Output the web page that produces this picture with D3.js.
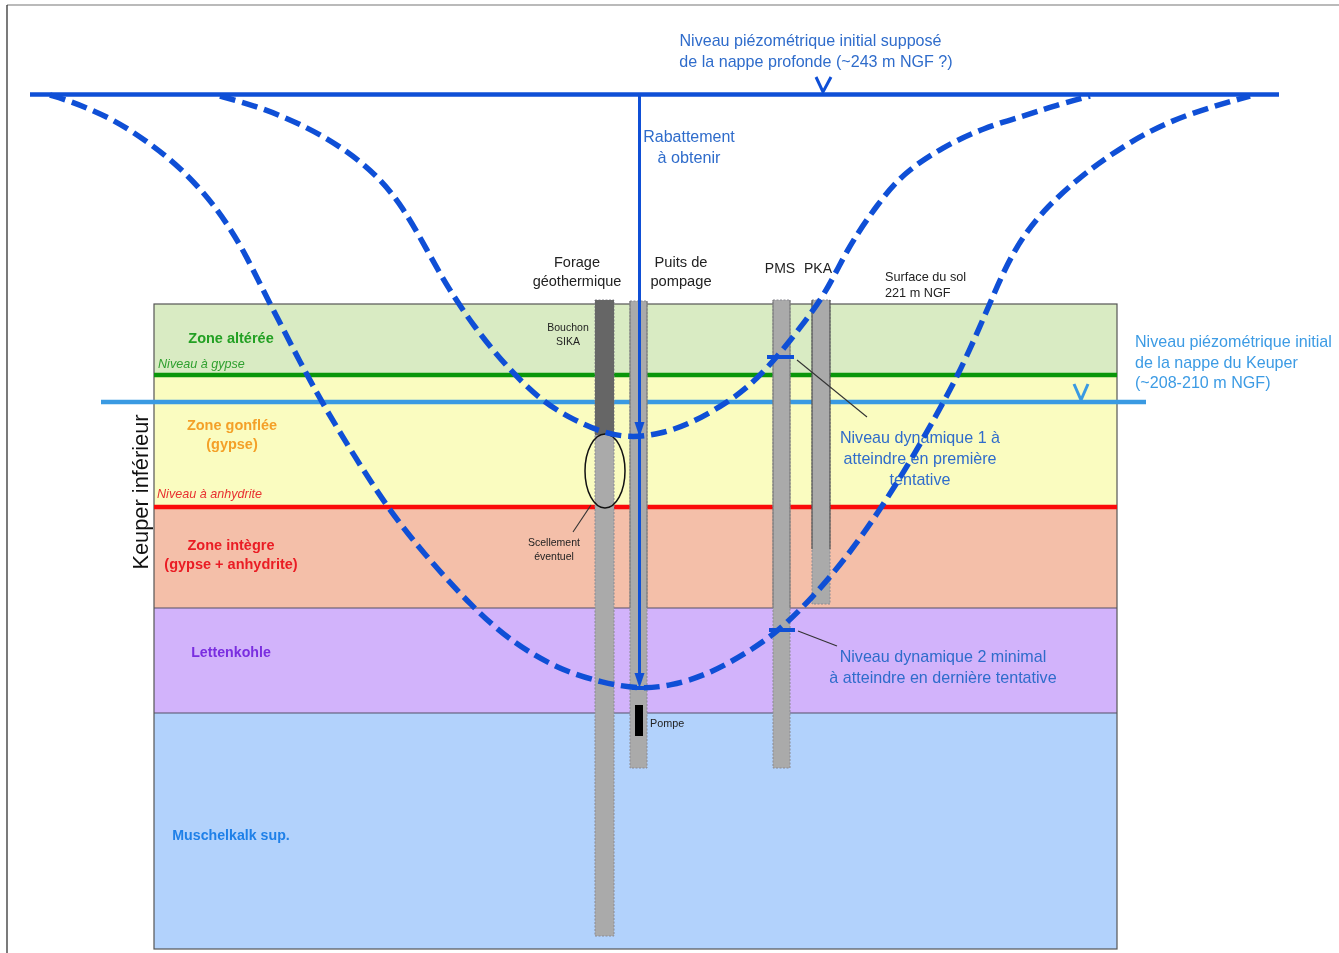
<!DOCTYPE html>
<html>
<head>
<meta charset="utf-8">
<script src="https://cdn.jsdelivr.net/npm/d3@7"></script>
<style>
  html, body { margin: 0; padding: 0; background: #fff; }
  text { font-family: "Liberation Sans", Arial, sans-serif; dominant-baseline: central; }
</style>
</head>
<body>
<div id="my_dataviz"></div>
<script>
// all values: distance from the pumping well, depth below ground (schematic units)
var layerNames = ["Zone altérée", "Zone gonflée", "Zone intègre", "Lettenkohle", "Muschelkalk sup."];
var layerTops = [0, 71, 203, 304, 409];
var layerBottoms = [71, 203, 304, 409, 645];
var layerColors = ["#d9ebc3", "#fafcc0", "#f4bfa9", "#d2b3fb", "#b2d2fc"];

var wellNames = ["Forage géothermique", "Puits de pompage", "PMS", "PKA"];
var wellLeft = [-45, -10, 133, 172];
var wellRight = [-26, 7, 150, 190];
var wellTops = [-4, -3, -4, -4];
var wellBottoms = [632, 464, 464, 300];
var wellSolidTo = [131, 0, 0, 245];

var gypsumDepth = 71, anhydriteDepth = 203;
var deepLevel = -209.5, keuperLevel = 98;

var drawdown1 = [[-420,-208],[-377,-196],[-333,-177],[-297,-156],[-263,-129],[-237,-97],[-213,-54],[-192,-16],
  [-165,24],[-135,61],[-100,96],[-70,114],[-40,128],[-10,134],[20,130],[50,120],[87,99],[113,79],[137,53],
  [160,24],[183,-7],[198,-36],[213,-64],[237,-99],[263,-131],[303,-157],[343,-176],[387,-189],[420,-200],[450,-208]];
var drawdown2 = [[-590,-209],[-573,-204],[-530,-187],[-490,-161],[-457,-134],[-427,-101],[-400,-61],[-377,-14],
  [-363,13],[-340,58],[-315,104],[-285,153],[-253,203],[-217,249],[-167,304],[-127,339],[-80,366],[-37,379],
  [0,385],[30,382],[67,371],[107,349],[140,326],[173,293],[207,253],[240,206],[273,153],[303,99],[317,73],
  [335,34],[350,-1],[373,-54],[403,-94],[440,-127],[470,-149],[507,-172],[550,-191],[610,-208]];

var width = 1339, height = 953;
var x = d3.scaleLinear().domain([-640, 699]).range([0, width]);
var y = d3.scaleLinear().domain([-304, 649]).range([0, height]);

// the source is a soft scan, so everything gets a very slight blur
var svg = d3.select("#my_dataviz").append("svg")
  .attr("width", width).attr("height", height).style("display", "block").style("filter", "blur(0.4px)");

var blue = "#0f4fd6", lightBlue = "#3a9ae2", noteBlue = "#2f6ccb", skyText = "#3c9be4";

// page frame
svg.append("line").attr("x1", 7).attr("x2", width).attr("y1", 5).attr("y2", 5).attr("stroke", "#777").attr("stroke-width", 1.2);
svg.append("line").attr("x1", 7).attr("x2", 7).attr("y1", 5).attr("y2", height).attr("stroke", "#222").attr("stroke-width", 1.2);

// layers
layerNames.forEach(function(d, i) {
  svg.append("rect")
    .attr("x", x(-486)).attr("width", x(477) - x(-486))
    .attr("y", y(layerTops[i])).attr("height", y(layerBottoms[i]) - y(layerTops[i]))
    .attr("fill", layerColors[i]);
});
[304, 409].forEach(function(d) {
  svg.append("line").attr("x1", x(-486)).attr("x2", x(477)).attr("y1", y(d)).attr("y2", y(d))
    .attr("stroke", "#555066").attr("stroke-width", 1.2);
});
svg.append("rect")
  .attr("x", x(-486)).attr("width", x(477) - x(-486)).attr("y", y(0)).attr("height", y(645) - y(0))
  .attr("fill", "none").attr("stroke", "#555").attr("stroke-width", 1.2);

// horizons
svg.append("line").attr("x1", x(-486)).attr("x2", x(477)).attr("y1", y(gypsumDepth)).attr("y2", y(gypsumDepth))
  .attr("stroke", "#0a960a").attr("stroke-width", 4.5);
svg.append("line").attr("x1", x(-486)).attr("x2", x(477)).attr("y1", y(anhydriteDepth)).attr("y2", y(anhydriteDepth))
  .attr("stroke", "#fa0a0a").attr("stroke-width", 4.5);

// keuper water table
svg.append("line").attr("x1", 101).attr("x2", 1146).attr("y1", y(keuperLevel)).attr("y2", y(keuperLevel))
  .attr("stroke", lightBlue).attr("stroke-width", 4.5);
svg.append("path").attr("d", "M1074,384 L1081,400 L1088,384")
  .attr("fill", "none").attr("stroke", lightBlue).attr("stroke-width", 3);

// wells
wellNames.forEach(function(d, i) {
  var l = x(wellLeft[i]), r = x(wellRight[i]), t = y(wellTops[i]), b = y(wellBottoms[i]);
  svg.append("rect").attr("x", l).attr("width", r - l).attr("y", t).attr("height", b - t)
    .attr("fill", "#aaaaaa").attr("stroke", "#8a8a92").attr("stroke-width", 1).attr("stroke-dasharray", "2,1.5");
  if (i == 0) {
    svg.append("rect").attr("x", l).attr("width", r - l).attr("y", t).attr("height", y(wellSolidTo[0]) - t)
      .attr("fill", "#666666");
  }
  if (i == 3) {
    svg.append("line").attr("x1", l).attr("x2", l).attr("y1", t).attr("y2", y(wellSolidTo[3])).attr("stroke", "#444");
    svg.append("line").attr("x1", r).attr("x2", r).attr("y1", t).attr("y2", y(wellSolidTo[3])).attr("stroke", "#444");
  }
  if (i == 1 || i == 2) {
    svg.append("line").attr("x1", l).attr("x2", l).attr("y1", t).attr("y2", y(304)).attr("stroke", "#777");
    svg.append("line").attr("x1", r).attr("x2", r).attr("y1", t).attr("y2", y(304)).attr("stroke", "#777");
  }
});

// pump
svg.append("rect").attr("x", x(-5)).attr("width", x(3) - x(-5)).attr("y", y(401)).attr("height", y(432) - y(401)).attr("fill", "#000");

// grouting ellipse and leaders
svg.append("ellipse").attr("cx", 605).attr("cy", 471).attr("rx", 20).attr("ry", 37)
  .attr("fill", "none").attr("stroke", "#111").attr("stroke-width", 1.5);
function leader(x1, y1, x2, y2) {
  svg.append("line").attr("x1", x1).attr("y1", y1).attr("x2", x2).attr("y2", y2).attr("stroke", "#333").attr("stroke-width", 1.1);
}
leader(591, 505, 573, 532);
leader(797, 360, 867, 417);
leader(798, 631, 837, 646);

// text under the curves
function label(lines, xx, yy, step, size, color, anchor, weight, style) {
  lines.forEach(function(t, i) {
    svg.append("text").attr("x", xx).attr("y", yy + i * step).text(t)
      .attr("font-size", size).attr("fill", color).attr("text-anchor", anchor || "middle")
      .attr("font-weight", weight || "normal").attr("font-style", style || "normal");
  });
}
label(["Niveau dynamique 1 à", "atteindre en première", "tentative"], 920, 437, 21, 16.1, noteBlue);
label(["Niveau dynamique 2 minimal", "à atteindre en dernière tentative"], 943, 656, 21, 16.1, noteBlue);

// deep water table
svg.append("line").attr("x1", 30).attr("x2", 1279).attr("y1", y(deepLevel)).attr("y2", y(deepLevel))
  .attr("stroke", blue).attr("stroke-width", 4.5);
svg.append("path").attr("d", "M816,77 L823,92 L831,77")
  .attr("fill", "none").attr("stroke", blue).attr("stroke-width", 3);

// drawdown curves
var line = d3.line().x(function(d) { return x(d[0]); }).y(function(d) { return y(d[1]); }).curve(d3.curveBasis);
[drawdown1, drawdown2].forEach(function(d) {
  svg.append("path").datum(d).attr("d", line).attr("fill", "none")
    .attr("stroke", blue).attr("stroke-width", 5.5).attr("stroke-dasharray", "16,7");
});

// drawdown arrow
svg.append("line").attr("x1", 639.5).attr("x2", 639.5).attr("y1", 95).attr("y2", 680).attr("stroke", blue).attr("stroke-width", 3);
[437, 688].forEach(function(tip) {
  svg.append("path").attr("d", "M634.5," + (tip - 15) + " L644.5," + (tip - 15) + " L639.5," + tip + " Z").attr("fill", blue);
});

// level ticks
function tick(x1, x2, yy) {
  svg.append("line").attr("x1", x1).attr("x2", x2).attr("y1", yy).attr("y2", yy).attr("stroke", blue).attr("stroke-width", 4);
}
tick(767, 794, 357);
tick(769, 795, 630);
tick(632, 649, 688);

// other text
label(["Niveau piézométrique initial supposé"], 810.5, 40, 0, 16.1, noteBlue);
label(["de la nappe profonde (~243 m NGF ?)"], 816, 61, 0, 16.1, noteBlue);
label(["Rabattement"], 689, 136, 0, 16, noteBlue);
label(["à obtenir"], 689, 157, 0, 16.2, noteBlue);
label(["Forage", "géothermique"], 577, 262, 19, 14.5, "#222");
label(["Puits de", "pompage"], 681, 262, 19, 14.7, "#222");
label(["PMS"], 780, 268, 0, 14, "#222");
label(["PKA"], 818, 268, 0, 14, "#222");
label(["Surface du sol", "221 m NGF"], 885, 277, 15.5, 12.7, "#222", "start");
label(["Bouchon", "SIKA"], 568, 327, 13.5, 10.5, "#222");
label(["Scellement", "éventuel"], 554, 542, 14, 10.5, "#222");
label(["Pompe"], 650, 723, 0, 10.8, "#222", "start");

label(["Zone altérée"], 231, 338, 0, 14.5, "#23a023", "middle", "bold");
label(["Niveau à gypse"], 158, 364, 0, 12.6, "#30a030", "start", "normal", "italic");
label(["Zone gonflée", "(gypse)"], 232, 425, 18.5, 14.5, "#f4a028", "middle", "bold");
label(["Niveau à anhydrite"], 157, 494, 0, 12.6, "#e83030", "start", "normal", "italic");
label(["Zone intègre", "(gypse + anhydrite)"], 231, 545, 18.5, 14.5, "#ea1c24", "middle", "bold");
label(["Lettenkohle"], 231, 652, 0, 14.2, "#7a2ee0", "middle", "bold");
label(["Muschelkalk sup."], 231, 835, 0, 14.2, "#1f80e8", "middle", "bold");

svg.append("text").attr("transform", "translate(140,492) rotate(-90)").attr("text-anchor", "middle")
  .attr("font-size", 21.8).attr("fill", "#111").text("Keuper inférieur");

label(["Niveau piézométrique initial", "de la nappe du Keuper", "(~208-210 m NGF)"], 1135, 341, 20.7, 16.1, skyText, "start");
</script>
</body>
</html>
